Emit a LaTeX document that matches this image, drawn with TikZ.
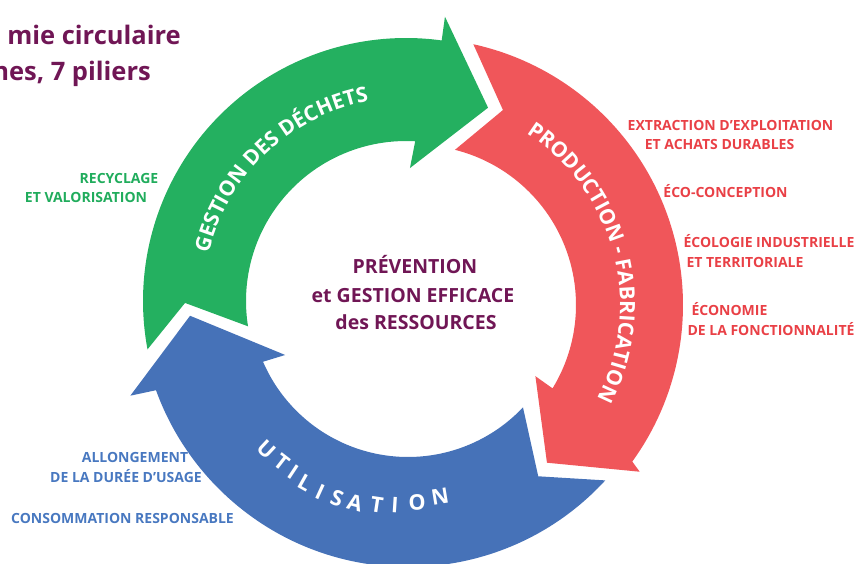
\documentclass[tikz,border=0pt]{standalone}
\usepackage{fontspec}
\setmainfont{Open Sans}
\usetikzlibrary{decorations.text,calc}
\definecolor{gr}{RGB}{36,176,96}
\definecolor{rd}{RGB}{240,86,90}
\definecolor{bl}{RGB}{70,114,184}
\definecolor{pu}{RGB}{112,22,85}
\definecolor{lred}{RGB}{233,64,70}
\definecolor{lgreen}{RGB}{32,172,92}
\definecolor{lblue}{RGB}{72,120,192}
\newcommand\arcfont{\bfseries\fontsize{21}{25}\selectfont}
\newcommand\utilfont{\bfseries\fontsize{21.5}{25}\selectfont}
\begin{document}
\begin{tikzpicture}[x=1pt,y=1pt,
  lab/.style={inner sep=0pt, anchor=base, font=\bfseries\fontsize{14}{16}\selectfont},
  ctr/.style={inner sep=0pt, anchor=base, text=pu, font=\bfseries\fontsize{19.5}{23}\selectfont},
  ttl/.style={inner sep=0pt, anchor=base east, text=pu, font=\bfseries\fontsize{25.5}{30}\selectfont},
  arcl/.style={inner sep=0pt, text=white, font=\utilfont}]
\useasboundingbox (0,0) rectangle (856,563);

% green arrow
\begin{scope}[shift={(406,262)}]
\fill[gr] (190.6:263pt) arc[start angle=190.6, end angle=82.2, radius=263pt]
  -- (82.2:287pt) -- (67:210pt) -- (88.3:133pt) -- (86.7:160pt)
  arc[start angle=86.7, end angle=189.1, radius=160pt] -- (180.5:221pt) -- cycle;
\path[decorate, decoration={text along path, text color=white,
  text={|\arcfont|GESTION DES DÉCHETS}, text align=center}]
  (175:203pt) arc[start angle=175, end angle=92, radius=203pt];
\end{scope}

% red arrow
\begin{scope}[shift={(416,258)}]
\fill[rd] (77.6:267pt) arc[start angle=77.6, end angle=-35.9, radius=267pt]
  -- (-36.7:279pt) -- (-50.3:205pt) -- (-30.8:139pt) -- (-31.4:160pt)
  arc[start angle=-31.4, end angle=75.9, radius=160pt] -- (65.96:213.5pt) -- cycle;
\path[decorate, decoration={text along path, text color=white,
  text={|\arcfont|PRODUCTION - FABRICATION}, text align=center}]
  (70:204pt) arc[start angle=70, end angle=-40, radius=204pt];
\end{scope}

% blue arrow
\begin{scope}[shift={(408,264)}]
\fill[bl] (-42.6:268pt) arc[start angle=-42.6, end angle=-160.1, radius=268pt]
  -- (-160.8:294pt) -- (-175.6:218.6pt) -- (-155.5:135pt) -- (-156.6:158pt)
  arc[start angle=-156.6, end angle=-43.3, radius=158pt] -- (-53.7:220pt) -- cycle;
\end{scope}
\foreach \l/\x/\y/\r [count=\i] in {U/267/113/-43, T/282/101/-37.7, I/293/91/-33.6,
  L/305/80/-29.2, I/320/71/-24.5, S/337/65/-19.6, A/355/60/-14.6, T/377/58/-8.6,
  I/395/58/-3.6, O/417/61/2.5, N/440/66/9.2}
  \node[arcl, rotate=\r] (u\i) at (\x,\y) {\l};

% title
\node[ttl] (t1) at (181,518) {mie circulaire};
\node[ttl] (t2) at (151,482) {nes, 7 piliers};

% centre
\node[ctr] (c1) at (415,290) {PRÉVENTION};
\node[ctr] (c2) at (413,260.3) {et GESTION EFFICACE};
\node[ctr] (c3) at (416,234) {des RESSOURCES};

% red labels
\node[lab, text=lred] (r1) at (730.5,432.3) {EXTRACTION D’EXPLOITATION};
\node[lab, text=lred] (r2) at (719.5,413) {ET ACHATS DURABLES};
\node[lab, text=lred] (r3) at (725.5,365) {ÉCO-CONCEPTION};
\node[lab, text=lred] (r4) at (769,316) {ÉCOLOGIE INDUSTRIELLE};
\node[lab, text=lred] (r5) at (745,296) {ET TERRITORIALE};
\node[lab, text=lred] (r6) at (729.5,248) {ÉCONOMIE};
\node[lab, text=lred] (r7) at (771,228) {DE LA FONCTIONNALITÉ};

% green labels
\node[lab, text=lgreen] (g1) at (119,379) {RECYCLAGE};
\node[lab, text=lgreen] (g2) at (86,360) {ET VALORISATION};

% blue labels
\node[lab, text=lblue] (b1) at (135,101) {ALLONGEMENT};
\node[lab, text=lblue] (b2) at (126,81) {DE LA DURÉE D’USAGE};
\node[lab, text=lblue] (b3) at (122.5,40) {CONSOMMATION RESPONSABLE};
\end{tikzpicture}
\end{document}
